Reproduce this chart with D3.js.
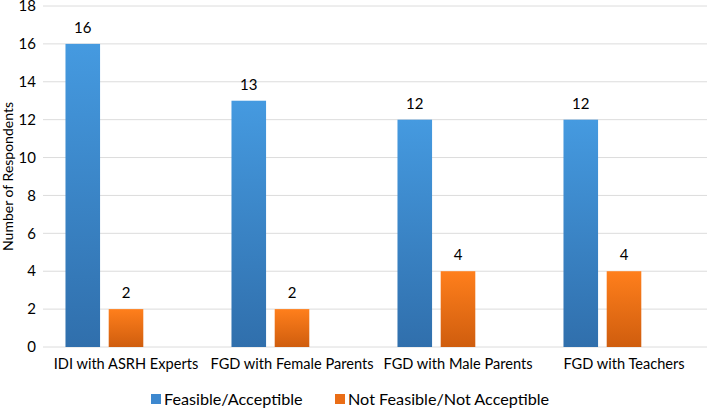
<!DOCTYPE html>
<html>
<head>
<meta charset="utf-8">
<script src="https://cdn.jsdelivr.net/npm/d3@7"></script>
<style>
  body { margin: 0; background: #fff; }
  text { font-family: Lato, "Open Sans", sans-serif; fill: #000; }
</style>
</head>
<body>
<div class="graphic"></div>
<script>
var categories = ["IDI with ASRH Experts", "FGD with Female Parents", "FGD with Male Parents", "FGD with Teachers"];
var feasible = [16, 13, 12, 12];
var notFeasible = [2, 2, 4, 4];
var seriesNames = ["Feasible/Acceptible", "Not Feasible/Not Acceptible"];
var yTicks = [0, 2, 4, 6, 8, 10, 12, 14, 16, 18];

var width = 707, height = 408;
var margin = { top: 6, right: 0, bottom: 61, left: 43 };

var svg = d3.select(".graphic").append("svg")
  .attr("width", width)
  .attr("height", height);

// gradients, lighter at top
var defs = svg.append("defs");
var grads = [
  { id: "gBlue", top: "#459ae0", bottom: "#306fac" },
  { id: "gOrange", top: "#ff7f1c", bottom: "#cf5d0e" }
];
grads.forEach(function(g) {
  var lg = defs.append("linearGradient")
    .attr("id", g.id)
    .attr("x1", 0).attr("y1", 0).attr("x2", 0).attr("y2", 1);
  lg.append("stop").attr("offset", "0%").attr("stop-color", g.top);
  lg.append("stop").attr("offset", "100%").attr("stop-color", g.bottom);
});

var x0 = d3.scaleBand()
  .domain(categories)
  .range([margin.left, width - margin.right]);

// excel-style cluster: third empty slot leaves the pair off-centre
var x1 = d3.scaleBand()
  .domain(["a", "b", "c"])
  .range([0, x0.bandwidth()])
  .paddingInner(0.2)
  .paddingOuter(0.52);

var y = d3.scaleLinear()
  .domain([0, 18])
  .range([height - margin.bottom, margin.top]);

// gridlines
svg.append("g")
  .selectAll("line")
  .data(yTicks)
  .join("line")
  .attr("x1", margin.left)
  .attr("x2", width - margin.right)
  .attr("y1", d => y(d))
  .attr("y2", d => y(d))
  .attr("stroke", "#dcdcdc")
  .attr("stroke-width", 1);

// y tick labels
svg.append("g")
  .selectAll("text")
  .data(yTicks)
  .join("text")
  .attr("x", 36)
  .attr("y", d => y(d))
  .attr("dy", "0.35em")
  .attr("text-anchor", "end")
  .style("font-size", "15px")
  .text(d => d);

svg.append("text")
  .attr("transform", "translate(13," + y(9) + ") rotate(-90)")
  .attr("text-anchor", "middle")
  .style("font-size", "14px")
  .text("Number of Respondents");

var rows = categories.map(function(c, i) {
  return [
    { cat: c, key: "a", v: feasible[i], fill: "url(#gBlue)" },
    { cat: c, key: "b", v: notFeasible[i], fill: "url(#gOrange)" }
  ];
});

var groups = svg.append("g")
  .selectAll("g")
  .data(rows)
  .join("g")
  .attr("transform", d => "translate(" + x0(d[0].cat) + ",0)");

groups.selectAll("rect")
  .data(d => d)
  .join("rect")
  .attr("x", d => x1(d.key))
  .attr("y", d => y(d.v))
  .attr("width", x1.bandwidth())
  .attr("height", d => y(0) - y(d.v))
  .attr("fill", d => d.fill);

groups.selectAll("text")
  .data(d => d)
  .join("text")
  .attr("x", d => x1(d.key) + x1.bandwidth() / 2)
  .attr("y", d => y(d.v) - 11)
  .attr("text-anchor", "middle")
  .style("font-size", "15px")
  .text(d => d.v);

// category labels
svg.append("g")
  .selectAll("text")
  .data(categories)
  .join("text")
  .attr("x", d => x0(d) + x0.bandwidth() / 2)
  .attr("y", y(0) + 22)
  .attr("text-anchor", "middle")
  .style("font-size", "14.6px")
  .text(d => d);

// legend
var legend = svg.append("g");
var legendX = [151, 335];
var legendFills = ["#3d88cf", "#ea6d16"];
seriesNames.forEach(function(name, i) {
  legend.append("rect")
    .attr("x", legendX[i])
    .attr("y", 394)
    .attr("width", 10)
    .attr("height", 10)
    .attr("fill", legendFills[i]);
  legend.append("text")
    .attr("x", legendX[i] + 13)
    .attr("y", 399)
    .attr("dy", "0.35em")
    .style("font-size", "16.2px")
    .text(name);
});
</script>
</body>
</html>
